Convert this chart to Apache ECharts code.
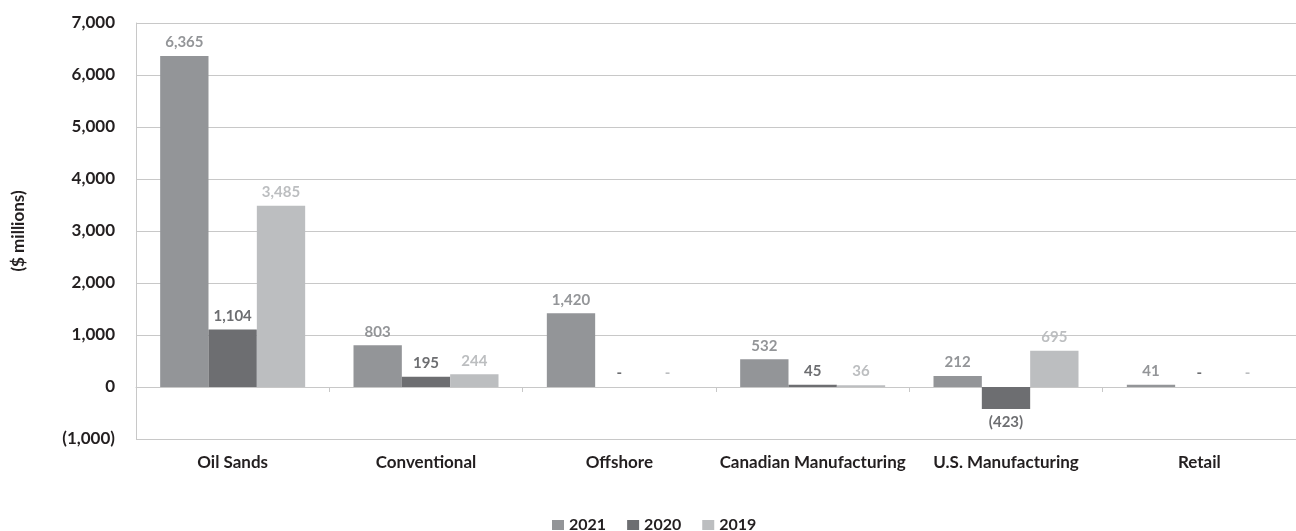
<!DOCTYPE html>
<html>
<head>
<meta charset="utf-8">
<script src="https://cdn.jsdelivr.net/npm/echarts@6/dist/echarts.min.js"></script>
<style>html,body{margin:0;padding:0;background:#fff}#c{width:1296px;height:531px}</style>
</head>
<body>
<div id="c"></div>
<script>
const categories = ['Oil Sands', 'Conventional', 'Offshore', 'Canadian Manufacturing', 'U.S. Manufacturing', 'Retail'];
const seriesNames = ['2021', '2020', '2019'];
const values2021 = [6365, 803, 1420, 532, 212, 41];
const values2020 = [1104, 195, 0, 45, -423, 0];
const values2019 = [3485, 244, 0, 36, 695, 0];
const yTicks = { min: -1000, max: 7000, interval: 1000 };

const FONT = 'Lato';
const colors = ['#939598', '#6d6e71', '#bcbec0'];
const labelColors = ['#939598', '#6d6e71', '#bcbec0'];

function fmt(v) {
  if (v === 0) return '-';
  const s = Math.abs(v).toLocaleString('en-US');
  return v < 0 ? '(' + s + ')' : s;
}

function mkSeries(name, vals, idx) {
  return {
    name: name,
    type: 'bar',
    xAxisIndex: 0,
    barGap: '0%',
    barCategoryGap: '25%',
    itemStyle: { color: colors[idx] },
    label: {
      show: true,
      position: 'top',
      distance: 6,
      color: labelColors[idx],
      fontFamily: FONT,
      fontWeight: 'bold',
      fontSize: 15,
      formatter: p => fmt(p.value)
    },
    data: vals.map(v => v < 0 ? { value: v, label: { position: 'bottom' } } : v)
  };
}

const chart = echarts.init(document.getElementById('c'));
chart.setOption({
  animation: false,
  grid: { left: 136, right: -11, top: 23, bottom: 92 },
  legend: {
    bottom: -7,
    left: 547,
    itemWidth: 12,
    itemHeight: 10,
    itemGap: 21,
    icon: 'rect',
    textStyle: { fontFamily: FONT, fontWeight: 'bold', fontSize: 16, color: '#231f20' },
    data: seriesNames
  },
  xAxis: [
    {
      type: 'category',
      data: categories,
      position: 'bottom',
      axisLine: { show: false, onZero: false },
      axisTick: { show: false },
      axisLabel: { interval: 0, fontFamily: FONT, fontWeight: 'bold', fontSize: 17, color: '#231f20', margin: 15 }
    },
    {
      type: 'category',
      data: categories,
      position: 'bottom',
      axisLine: { show: true, onZero: true, lineStyle: { color: '#c8c8c8', width: 1 } },
      axisTick: { show: true, interval: 0, length: 5, inside: false, lineStyle: { color: '#c8c8c8' } },
      axisLabel: { show: false }
    }
  ],
  yAxis: {
    type: 'value',
    min: yTicks.min,
    max: yTicks.max,
    interval: yTicks.interval,
    name: '($ millions)',
    nameLocation: 'middle',
    nameGap: 109,
    nameRotate: 90,
    nameTextStyle: { fontFamily: FONT, fontWeight: 'bold', fontSize: 17, color: '#231f20' },
    axisLine: { show: true, lineStyle: { color: '#c8c8c8' } },
    axisTick: { show: false },
    axisLabel: { fontFamily: FONT, fontWeight: 'bold', fontSize: 17, color: '#231f20', margin: 21, formatter: v => v === 0 ? '0' : fmt(v) },
    splitLine: { show: true, lineStyle: { color: '#c8c8c8', width: 1 } }
  },
  series: [
    mkSeries(seriesNames[0], values2021, 0),
    mkSeries(seriesNames[1], values2020, 1),
    mkSeries(seriesNames[2], values2019, 2)
  ]
});
</script>
</body>
</html>
